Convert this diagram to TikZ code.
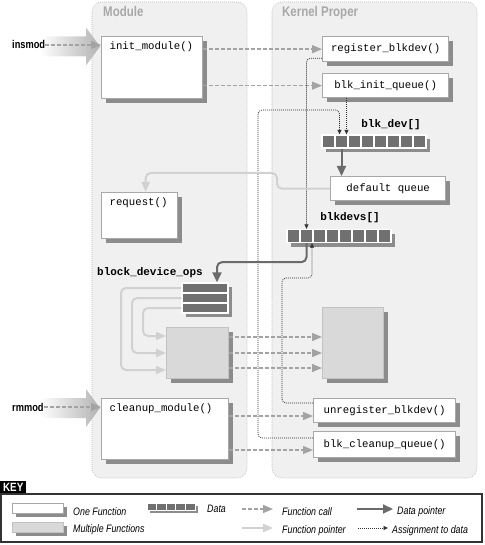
\documentclass[tikz,border=0pt]{standalone}
\usepackage{fontspec}
\setmainfont{Liberation Sans}
\setmonofont{Liberation Mono}
\newfontfamily\condfont[FakeStretch=0.82]{Liberation Sans}
\usetikzlibrary{arrows.meta,shadows}

\definecolor{panelgray}{gray}{0.94}
\definecolor{panelline}{gray}{0.72}
\definecolor{titlegray}{gray}{0.66}
\definecolor{boxline}{gray}{0.66}
\definecolor{multiline}{gray}{0.76}
\definecolor{multigray}{gray}{0.85}
\definecolor{shadowgray}{gray}{0.55}
\definecolor{datagray}{gray}{0.44}
\definecolor{callgray}{gray}{0.64}
\definecolor{fptrgray}{gray}{0.82}
\definecolor{dptrgray}{gray}{0.42}

\begin{document}
\begin{tikzpicture}[
    x=1pt, y=-1pt,
    panel/.style={
        rounded corners=10pt,
        fill=panelgray,
        draw=panelline,
        line width=0.6pt,
        dash pattern=on 0.8pt off 1.2pt,
    },
    paneltitle/.style={anchor=base west, inner sep=0pt, text=titlegray,
        font=\condfont\bfseries\fontsize{14}{14}\selectfont},
    modtext/.style={anchor=base west, inner sep=0pt,
        font=\condfont\bfseries\fontsize{11.3}{12}\selectfont},
    keytext/.style={anchor=base west, inner sep=0pt,
        font=\condfont\itshape\fontsize{10.8}{12}\selectfont},
    datalabel/.style={inner sep=0pt, font=\ttfamily\bfseries\fontsize{11}{12}\selectfont},
    boxshadow/.style={drop shadow={shadow xshift=#1, shadow yshift=-#1, fill=shadowgray, opacity=1}},
    fnbase/.style={
        rectangle,
        draw=boxline,
        line width=1.3pt,
        fill=white,
        inner sep=0pt,
        anchor=north west,
        font=\ttfamily\fontsize{10.7}{12}\selectfont,
    },
    fnbox/.style={fnbase, boxshadow=#1},
    fnbox/.default=4pt,
    multibox/.style={fnbox=#1, fill=multigray, draw=multiline},
    multibox/.default=4pt,
    topfn/.style={fnbox, align=left, inner xsep=8pt, inner ysep=4pt, text height=9pt},
    cell/.style={rectangle, fill=datagray, draw=white, line width=1.3pt, inner sep=0pt,
        minimum width=13pt, minimum height=13pt, boxshadow=#1},
    cell/.default=4pt,
    keyhead/.style={rectangle, fill=black, text=white, anchor=north west, inner sep=0pt,
        minimum width=26pt, minimum height=13pt,
        font=\condfont\bfseries\fontsize{12}{12}\selectfont},
    call/.style={draw=callgray, line width=1.3pt, dash pattern=on 4pt off 2pt,
        -{Triangle[length=10pt,width=8pt]}},
    fptr/.style={draw=fptrgray, line width=2pt, rounded corners=5pt,
        -{Triangle[length=10pt,width=8pt]}},
    dptr/.style={draw=dptrgray, line width=2pt, rounded corners=5pt,
        -{Triangle[length=10pt,width=9pt]}},
    assign/.style={draw=black!80, line width=0.7pt, dash pattern=on 1pt off 1pt, rounded corners=4pt,
        -{Triangle[length=4.5pt,width=4pt]}},
]
    \useasboundingbox (0,0) rectangle (484,545);

    \draw[panel] (92,2) rectangle (247,478);
    \draw[panel] (272,2) rectangle (477,478);
    \node[paneltitle] (modtitle)  at (103,17) {Module};
    \node[paneltitle] (kerntitle) at (282,17) {Kernel Proper};

    \foreach \y in {46.5,408}
        \shade[left color=white, right color=black!30]
            (40,\y-10) -- (86,\y-10) -- (86,\y-19) -- (100,\y)
            -- (86,\y+19) -- (86,\y+10) -- (40,\y+10) -- cycle;
    \node[modtext] (insmod) at (12,49)  {insmod};
    \node[modtext] (rmmod)  at (12,411) {rmmod};

    \node[topfn, text width=85pt,  text depth=45pt] (init)    at (101,36)  {init\_module()};
    \node[topfn, text width=60pt,  text depth=29pt] (request) at (101,192) {request()};
    \node[topfn, text width=111pt, text depth=44pt] (cleanup) at (101,398) {cleanup\_module()};

    \node[fnbox, minimum width=126pt, minimum height=25pt] (register) at (322,36)  {register\_blkdev()};
    \node[fnbox, minimum width=126pt, minimum height=24pt] (initq)    at (322,73)  {blk\_init\_queue()};
    \node[fnbox, minimum width=115pt, minimum height=24pt] (dq)       at (330,176) {default queue};
    \node[fnbox, minimum width=142pt, minimum height=24pt] (unreg)    at (313,398) {unregister\_blkdev()};
    \node[fnbox, minimum width=142pt, minimum height=26pt] (blkclean) at (313,431) {blk\_cleanup\_queue()};

    \node[multibox, minimum width=62pt, minimum height=51pt] (mfl) at (166,327) {};
    \node[multibox, minimum width=61pt, minimum height=71pt] (mfr) at (322,307) {};

    \foreach \i in {1,...,8}
        \node[cell] (bd\i) at ({315.5+13*\i},141.5) {};
    \foreach \i in {1,...,8}
        \node[cell] (bds\i) at ({280.5+13*\i},236) {};
    \foreach \i in {1,2,3}
        \node[cell, minimum width=46pt, minimum height=10pt] (ops\i) at (205,{278+10*\i}) {};

    \node[datalabel] (bdlabel)  at (391,125) {blk\_dev[]};
    \node[datalabel] (bdslabel) at (350,218) {blkdevs[]};
    \node[datalabel] (opslabel) at (150,273) {block\_device\_ops};

    \coordinate (bend1) at (258,110);
    \coordinate (bend2) at (282,278);
    \coordinate (bend3) at (277,173);

    \draw[call] (insmod.east) -- (insmod.east -| init.west);
    \draw[call] (rmmod.east) -- (rmmod.east -| cleanup.west);
    \draw[call] (init.east |- register.west) -- (register.west);
    \draw[call] (init.east |- initq.west) -- (initq.west);
    \foreach \y in {337,353,368}
        \draw[call] (mfl.east |- 0,\y) -- (mfr.west |- 0,\y);
    \draw[call] (cleanup.east |- 0,416) -- (unreg.west |- 0,416);
    \draw[call] (cleanup.east |- 0,450) -- (blkclean.west |- 0,450);

    \draw[assign] ([yshift=4pt]register.south west) -| (bds2.north);
    \draw[assign] ([xshift=5pt]bd2.north |- initq.south) -- ([xshift=5pt]bd2.north);
    \draw[assign] ([yshift=-7pt]blkclean.north west) -| (bend1) -| ([xshift=-2pt]bd2.north);
    \draw[assign] ([yshift=-5pt]unreg.north west) -| (bend2) -| ([xshift=5.5pt]bds2.south);

    \draw[dptr] (bd2.south) -- (bd2.south |- dq.north);
    \draw[dptr] (bds2.south) -- ++(0,19) -| ([xshift=12pt]ops1.north);

    \draw[fptr] (dq.west) -| (bend3) -| ([xshift=6pt]request.north);
    \foreach \i/\x/\y in {1/121/370, 2/132/353, 3/143/336}
        \draw[fptr] (ops\i.west) -| (\x,\y) -- (mfl.west |- 0,\y);

    \node[keyhead] (keyhead) at (0,481) {KEY};
    \draw[draw=black!80, line width=1.6pt] (1,494) rectangle (482,542);

    \node[fnbox=3pt, minimum width=51pt, minimum height=10pt] (k1) at (12,503) {};
    \node[keytext] (k1t) at (73,515) {One Function};
    \node[multibox=3pt, minimum width=51pt, minimum height=10pt] (k2) at (12,522) {};
    \node[keytext] (k2t) at (73,532) {Multiple Functions};
    \foreach \i in {1,...,5}
        \node[cell=3pt, minimum width=9.6pt, minimum height=7pt, line width=1pt] (kd\i) at ({142.2+9.6*\i},506.5) {};
    \node[keytext] (k3t) at (207,512) {Data};

    \node[keytext] (k4t) at (282,515) {Function call};
    \node[keytext] (k5t) at (282,533) {Function pointer};
    \node[keytext] (k6t) at (397,514) {Data pointer};
    \node[keytext] (k7t) at (392,533) {Assignment to data};
    \coordinate (k4) at (242,509);
    \coordinate (k5) at (242,528);
    \coordinate (k6) at (357,509);
    \coordinate (k7) at (358,528);
    \draw[call]   (k4) -- ([xshift=-9pt]k4t.west |- k4);
    \draw[fptr]   (k5) -- ([xshift=-9pt]k5t.west |- k5);
    \draw[dptr]   (k6) -- ([xshift=-4pt]k6t.west |- k6);
    \draw[assign] (k7) -- ([xshift=-4pt]k7t.west |- k7);

\end{tikzpicture}
\end{document}
